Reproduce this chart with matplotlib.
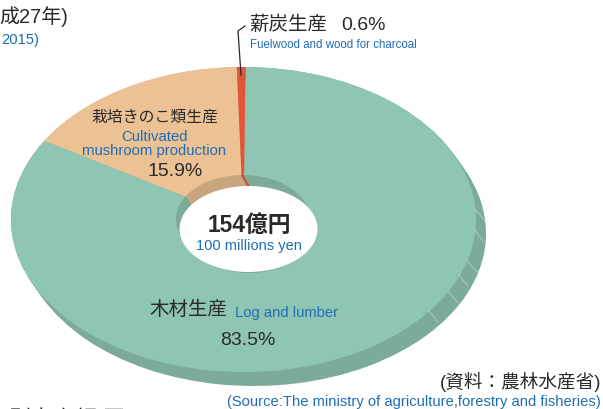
#!/usr/bin/env python3

import matplotlib
matplotlib.use("Agg")
import matplotlib.pyplot as plt
from matplotlib.patches import Ellipse, Rectangle

plt.rcParams['font.family'] = ['Liberation Sans', 'Noto Sans CJK JP', 'DejaVu Sans']

# --- Data ---
shares = [83.5, 15.9, 0.6]
top_colors = ["#8FC6B3", "#ECC295", "#E25539"]
side_colors = ["#7CAB99", "#C8A57F", "#C9503A"]

W, H = 603, 410
BLUE = "#1F6DB5"
DARK = "#2A2A2A"

fig = plt.figure(figsize=(W / 100, H / 100), dpi=100)
ax = fig.add_axes([0, 0, 1, 1])
ax.set_xlim(0, W)
ax.set_ylim(H, 0)
ax.axis("off")


def draw_pie(cx, cy, rx, ry, colors, z):
    # axes over the ellipse box, pie gets squashed to the ellipse
    a = fig.add_axes([(cx - rx) / W, 1 - (cy + ry) / H, 2 * rx / W, 2 * ry / H], zorder=z)
    # clockwise, the small red slice ends just right of 12 o'clock
    a.pie(shares, colors=colors, startangle=89.5, counterclock=False, radius=1,
          wedgeprops={"linewidth": 0})
    a.set_aspect("auto")
    a.set_xlim(-1, 1)
    a.set_ylim(-1, 1)
    a.axis("off")
    return a


# extruded side
for i in range(15):
    draw_pie(243.5 + i * 10 / 14, 220.5 + i, 232.5, 152.5, side_colors, 1)

# top face
draw_pie(243.5, 220.5, 232.5, 152.5, top_colors, 2)

# facet lines on the side
facets = [((428, 311), (438, 323)), ((448, 292), (458, 304)), ((459, 276), (468, 287)),
          ((467, 262), (477, 273)), ((474, 230), (483, 242)), ((475, 210), (485, 222))]

# text overlay and small marks on their own axes
top = fig.add_axes([0, 0, 1, 1], zorder=20)
top.set_xlim(0, W)
top.set_ylim(H, 0)
top.axis("off")

for p0, p1 in facets:
    top.plot([p0[0], p1[0]], [p0[1], p1[1]], color="#B5D3C7", lw=0.6)

# inner wall of the hole, stacked so the slices slant down
for i in range(11):
    draw_pie(243 + i * 0.6, 220 + i, 67, 44, side_colors, 3 + i * 0.1)

# white opening
top.add_patch(Ellipse((248.5, 230), 138, 86, facecolor="white", edgecolor="none"))


def label(x, y, s, size, color=DARK, ha="center", **kw):
    top.text(x, y, s, fontsize=size, color=color, ha=ha, va="center", **kw)


label(68, 17, "成27年)", 14.4, ha="right")
label(39, 40, "2015)", 10.6, color=BLUE, ha="right")
label(249, 25, "薪炭生産", 14, ha="left")
label(341, 25, "0.6%", 14, ha="left")
label(250, 45, "Fuelwood and wood for charcoal", 8.3, color=BLUE, ha="left")
top.plot([245, 238, 241], [27, 32, 76], color=DARK, lw=0.9)

label(155, 117, "栽培きのこ類生産", 11.4)
label(154, 137, "Cultivated", 10.7, color=BLUE)
label(154, 151, "mushroom production", 10.7, color=BLUE)
label(175, 172, "15.9%", 14)

label(249, 225, "154億円", 16.4, fontweight="bold")
label(249, 246, "100 millions yen", 10.5, color=BLUE)

label(188, 310, "木材生産", 14)
label(235, 313, "Log and lumber", 10.6, color=BLUE, ha="left")
label(248, 341, "83.5%", 14)

label(601, 382, "(資料：農林水産省)", 13.4, ha="right")
label(601, 402, "(Source:The ministry of agriculture,forestry and fisheries)", 10.6, color=BLUE, ha="right")
label(97, 421, "別市出額", 16, ha="right")
top.add_patch(Rectangle((105, 409), 18, 3, facecolor="#C8C8C8", edgecolor="none"))

fig.savefig("out.png", dpi=100)
